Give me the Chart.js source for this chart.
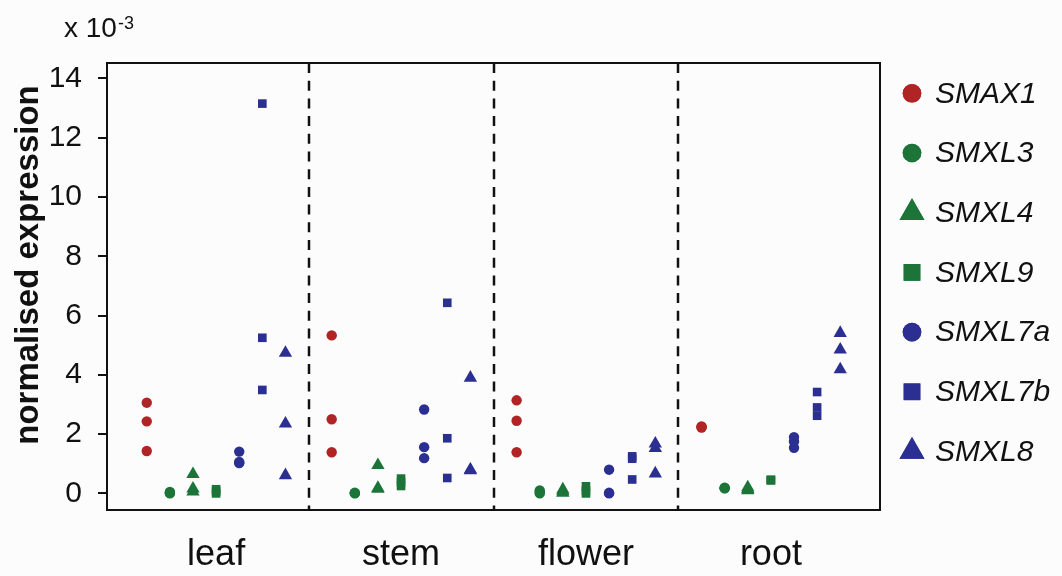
<!DOCTYPE html>
<html>
<head>
<meta charset="utf-8">
<script src="https://cdn.jsdelivr.net/npm/chart.js@4.4.1/dist/chart.umd.min.js"></script>
<style>
  html, body { margin: 0; padding: 0; background: #fcfcfc; }
  #wrap { width: 1062px; height: 576px; position: relative; }
</style>
</head>
<body>
<div id="wrap"><canvas id="c" width="1062" height="576"></canvas></div>
<script>
// ---- data (normalised expression, x 10^-3; three replicates per tissue) ----
const categories = ['leaf', 'stem', 'flower', 'root'];
const seriesNames = ['SMAX1', 'SMXL3', 'SMXL4', 'SMXL9', 'SMXL7a', 'SMXL7b', 'SMXL8'];
const yTicks = [0, 2, 4, 6, 8, 10, 12, 14];

const SMAX1  = [[3.06, 2.43, 1.43], [5.33, 2.50, 1.39], [3.14, 2.45, 1.39], [2.26, 2.24, 2.22]];
const SMXL3  = [[0.05, 0.02, 0.00], [0.02, 0.00, 0.01], [0.10, 0.05, 0.00], [0.18, 0.17, 0.19]];
const SMXL4  = [[0.65, 0.16, 0.06], [0.95, 0.18, 0.15], [0.13, 0.07, 0.02], [0.20, 0.10, 0.14]];
const SMXL9  = [[0.14, 0.07, 0.00], [0.50, 0.38, 0.25], [0.24, 0.10, 0.00], [0.45, 0.44, 0.46]];
const SMXL7a = [[1.41, 1.06, 1.02], [2.83, 1.56, 1.19], [0.80, 0.00, 0.02], [1.90, 1.75, 1.54]];
const SMXL7b = [[13.15, 5.25, 3.49], [6.43, 1.86, 0.52], [1.25, 1.17, 0.47], [3.42, 2.90, 2.62]];
const SMXL8  = [[4.74, 2.35, 0.61], [3.90, 0.78, 0.80], [1.68, 1.53, 0.67], [5.41, 4.85, 4.18]];

const seriesValues = [SMAX1, SMXL3, SMXL4, SMXL9, SMXL7a, SMXL7b, SMXL8];

// ---- styles ----
const RED = 'rgb(176,36,38)';
const GREEN = 'rgb(28,116,56)';
const BLUE = 'rgb(44,47,146)';
const seriesColors = [RED, GREEN, GREEN, GREEN, BLUE, BLUE, BLUE];
const seriesShapes = ['circle', 'circle', 'triangle', 'rect', 'circle', 'rect', 'triangle'];
const shapeRadius = { circle: 5.2, rect: 6.1, triangle: 7.7 };
const legendRadius = { circle: 9.3, rect: 11.8, triangle: 14.4 };

const GROUP_STEP = 8;   // x units between tissue groups
const FONT = '"Liberation Sans", Arial, Helvetica, sans-serif';

const datasets = seriesNames.map((name, s) => {
  const pts = [];
  seriesValues[s].forEach((reps, c) => {
    reps.forEach(v => pts.push({ x: c * GROUP_STEP + (s - 3), y: v }));
  });
  const shape = seriesShapes[s];
  return {
    label: name,
    data: pts,
    pointStyle: shape,
    pointRadius: shapeRadius[shape],
    pointHoverRadius: shapeRadius[shape],
    backgroundColor: seriesColors[s],
    borderColor: seriesColors[s],
    borderWidth: 0,
    showLine: false
  };
});

const decor = {
  id: 'decor',
  beforeDatasetsDraw(chart) {
    const { ctx, chartArea: a, scales } = chart;
    ctx.save();
    // dashed separators between tissues
    ctx.strokeStyle = '#111';
    ctx.lineWidth = 2.5;
    ctx.setLineDash([10, 7.7]);
    for (let c = 0; c < categories.length - 1; c++) {
      const px = Math.round(scales.x.getPixelForValue(c * GROUP_STEP + GROUP_STEP / 2));
      ctx.beginPath();
      ctx.moveTo(px, a.top);
      ctx.lineTo(px, a.bottom);
      ctx.stroke();
    }
    ctx.restore();
  },
  afterDraw(chart) {
    const { ctx, chartArea: a } = chart;
    ctx.save();
    // frame
    ctx.strokeStyle = '#111';
    ctx.lineWidth = 2;
    ctx.setLineDash([]);
    ctx.strokeRect(a.left, a.top, a.right - a.left, a.bottom - a.top);

    // y title
    ctx.fillStyle = '#111';
    ctx.font = 'bold 33px ' + FONT;
    ctx.textAlign = 'center';
    ctx.textBaseline = 'alphabetic';
    ctx.translate(38, 265);
    ctx.rotate(-Math.PI / 2);
    ctx.fillText('normalised expression', 0, 0);
    ctx.setTransform(1, 0, 0, 1, 0, 0);

    // multiplier
    ctx.textAlign = 'left';
    ctx.font = '28px ' + FONT;
    ctx.fillText('x 10', 64, 37);
    const w = ctx.measureText('x 10').width;
    ctx.font = '18px ' + FONT;
    ctx.fillText('-3', 64 + w + 1, 29);

    // legend
    const lx = 912, tx = 935, y0 = 93.3, step = 59.7;
    chart.data.datasets.forEach((ds, i) => {
      const y = y0 + i * step;
      ctx.fillStyle = ds.backgroundColor;
      ctx.strokeStyle = ds.backgroundColor;
      Chart.helpers.drawPoint(ctx, {
        pointStyle: ds.pointStyle,
        radius: legendRadius[ds.pointStyle],
        rotation: 0,
        borderWidth: 0
      }, lx, y);
      ctx.fill();
      ctx.fillStyle = '#111';
      ctx.font = 'italic 30px ' + FONT;
      ctx.textAlign = 'left';
      ctx.textBaseline = 'middle';
      ctx.fillText(ds.label, tx, y + 1);
    });
    ctx.restore();
  }
};

new Chart(document.getElementById('c'), {
  type: 'scatter',
  data: { datasets },
  plugins: [decor],
  options: {
    responsive: false,
    animation: false,
    layout: { padding: { left: 0, top: 63, right: 182, bottom: 0 } },
    plugins: { legend: { display: false }, tooltip: { enabled: false } },
    scales: {
      x: {
        type: 'linear',
        min: -4.72,
        max: (categories.length - 1) * GROUP_STEP + 4.72,
        afterBuildTicks: s => { s.ticks = categories.map((_, i) => ({ value: i * GROUP_STEP })); },
        afterFit: s => { s.height = 66; },
        grid: { display: false, drawTicks: false },
        border: { display: false },
        ticks: {
          autoSkip: false,
          maxRotation: 0,
          padding: 23,
          color: '#111',
          font: { family: FONT, size: 36 },
          callback: v => categories[Math.round(v / GROUP_STEP)]
        }
      },
      y: {
        type: 'linear',
        min: -0.56,
        max: 14.52,
        afterBuildTicks: s => { s.ticks = yTicks.map(v => ({ value: v })); },
        afterFit: s => { s.width = 107; },
        grid: { display: true, drawOnChartArea: false, drawTicks: true, tickLength: 9, color: '#111', lineWidth: 2 },
        border: { display: false },
        ticks: {
          padding: 16,
          color: '#111',
          font: { family: FONT, size: 30 },
          callback: v => String(v)
        }
      }
    }
  }
});
</script>
</body>
</html>
